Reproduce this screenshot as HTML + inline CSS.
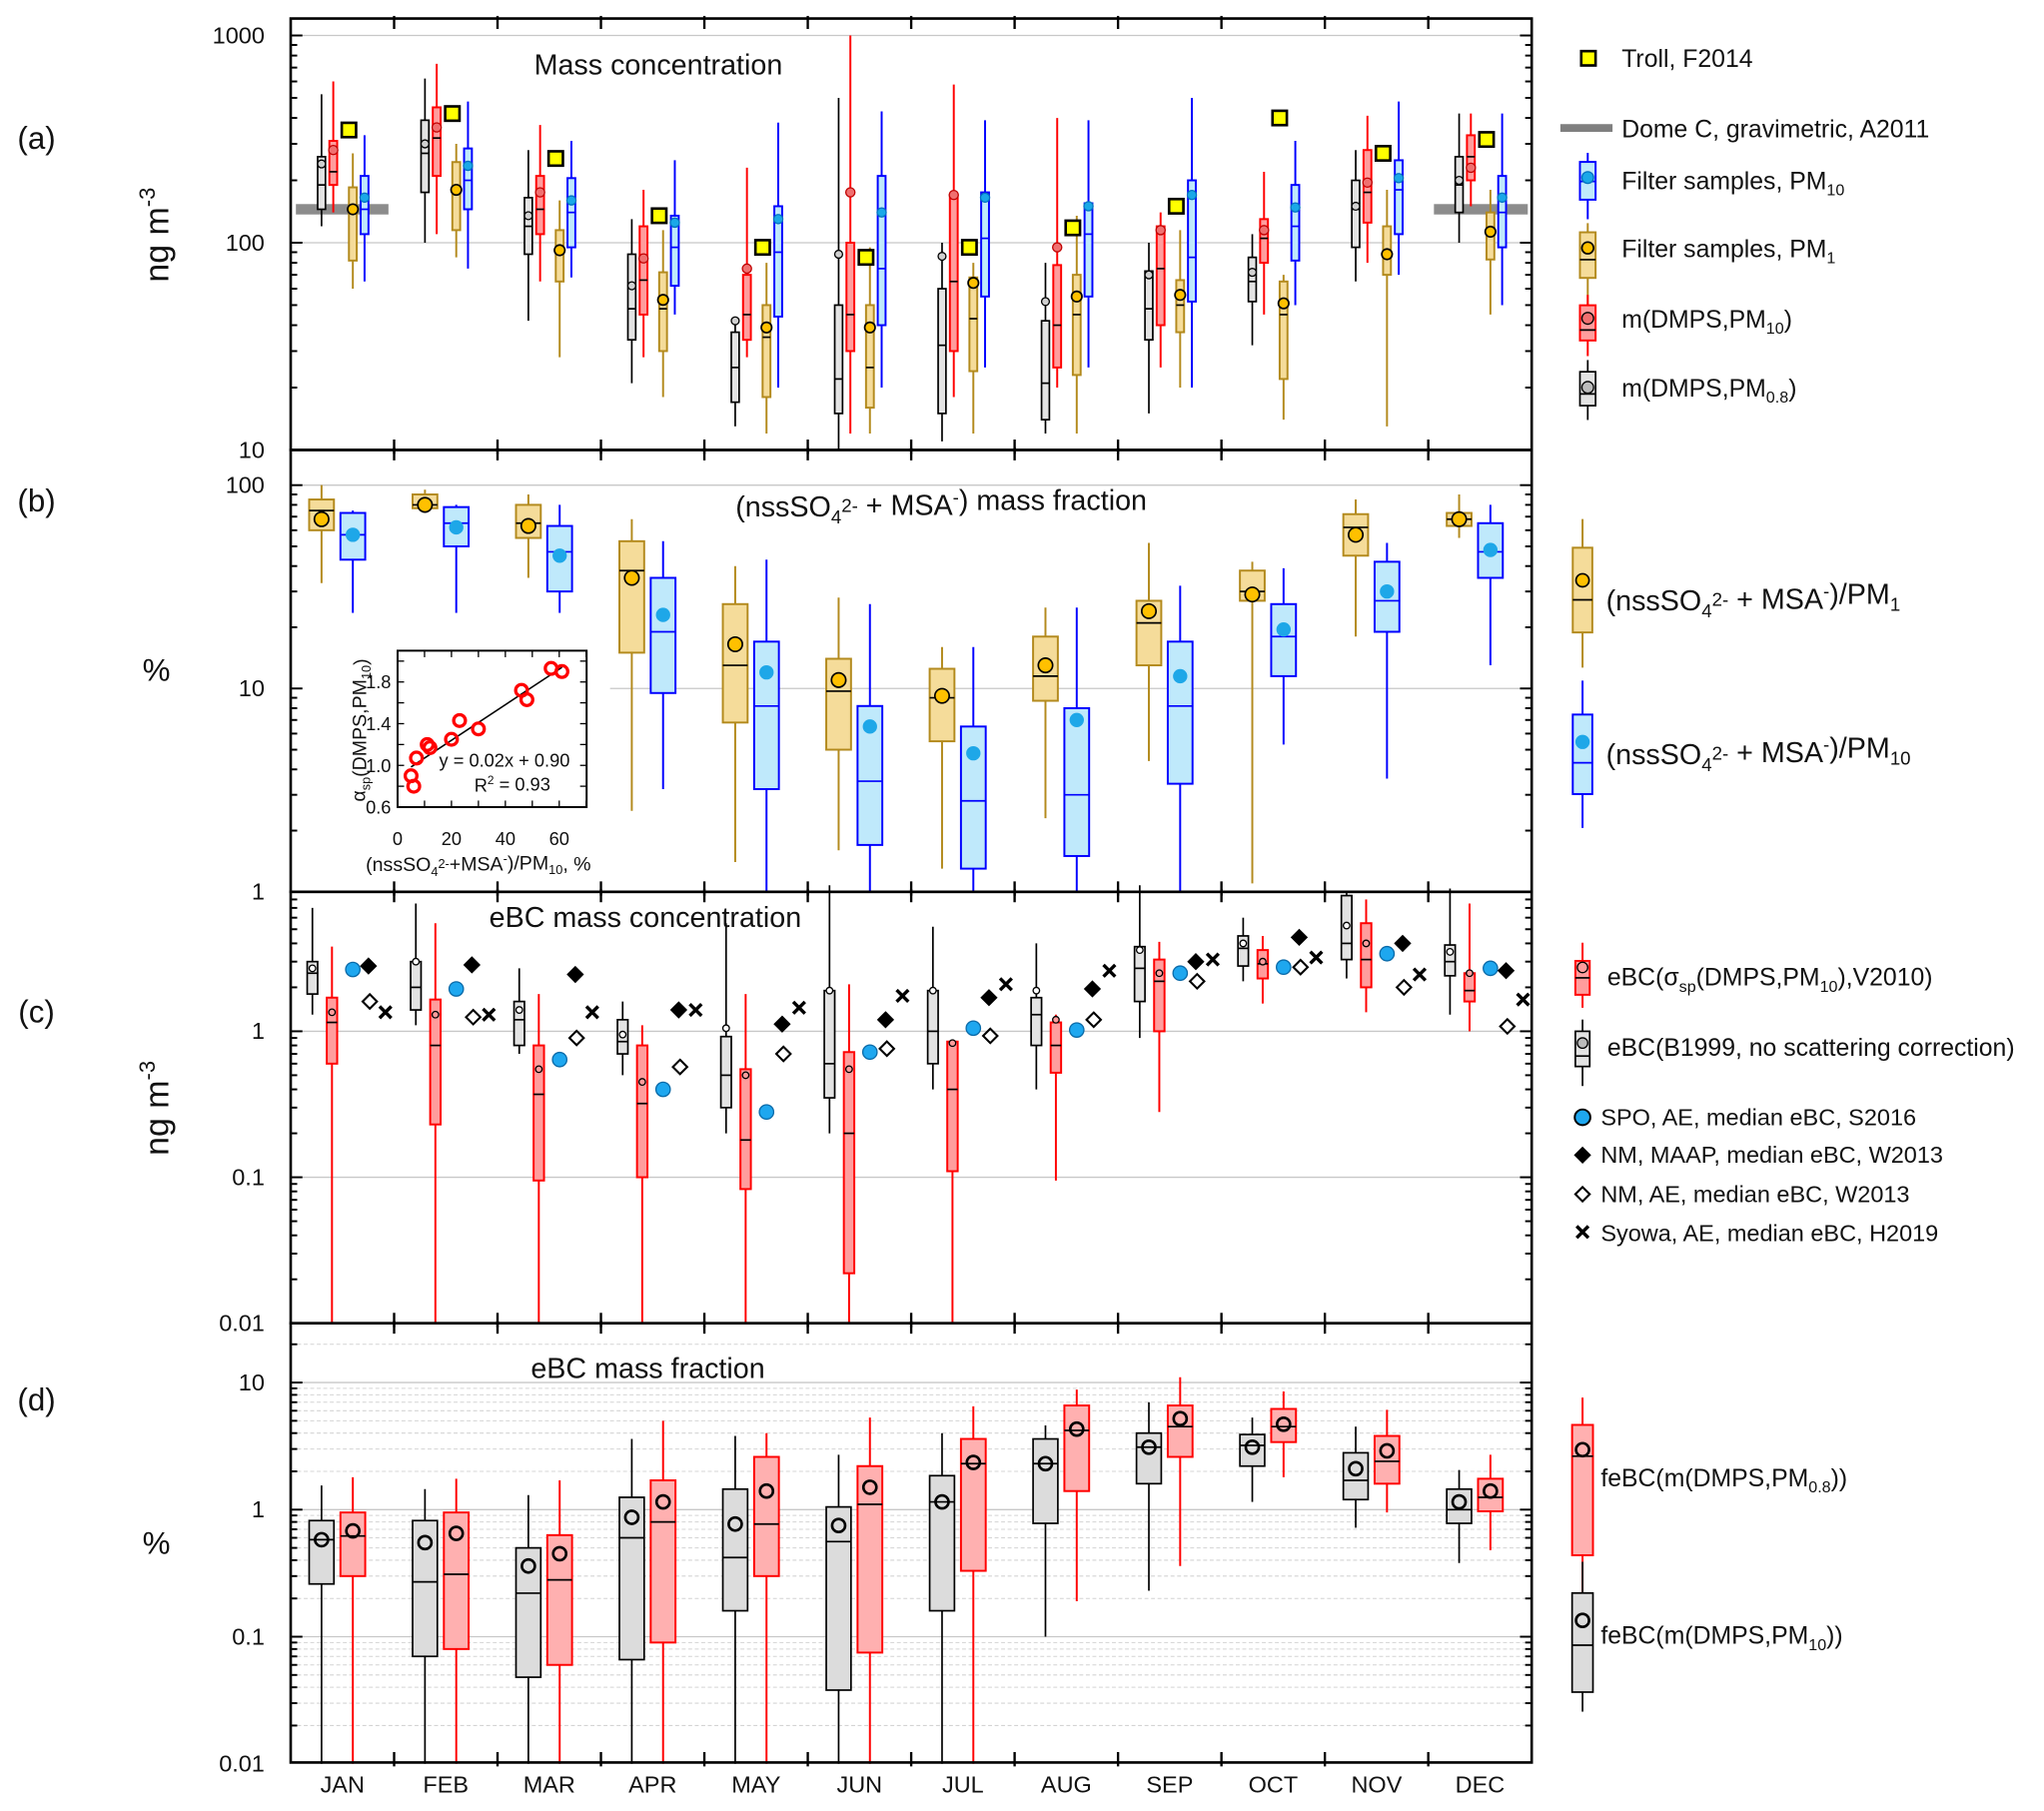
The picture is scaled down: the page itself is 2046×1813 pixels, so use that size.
<!DOCTYPE html>
<html><head><meta charset="utf-8"><style>
html,body{margin:0;padding:0;background:#fff}
svg{display:block;font-family:"Liberation Sans",sans-serif}
</style></head><body>
<svg id="chart" width="2046" height="1813" viewBox="0 0 1568 1389" xmlns="http://www.w3.org/2000/svg"></svg>
<script>
const months=["JAN","FEB","MAR","APR","MAY","JUN","JUL","AUG","SEP","OCT","NOV","DEC"];
// each entry: [whiskerLow, q1, median, q3, whiskerHigh, mean]
const aPM08=[[120,145,190,260,520,240],[100,175,270,390,620,300],[42,88,120,165,280,135],[21,34,48,88,130,62],[13,17,25,37,42,42],[10,15,22,50,500,88],[11,15,32,60,100,86],[12,14,21,42,80,52],[15,34,48,73,100,70],[32,52,65,85,110,72],[65,95,145,200,280,150],[100,140,190,260,420,200]];
const aPM10=[[140,190,220,310,600,280],[110,210,320,450,730,360],[65,110,145,210,370,175],[28,45,66,120,180,84],[28,34,45,70,230,75],[12,30,45,100,1000,175],[18,30,65,170,580,170],[20,25,40,78,400,95],[25,40,75,120,140,115],[45,80,105,130,220,115],[80,125,175,280,410,195],[150,200,260,330,420,230]];
const aFiltPM1=[[60,82,140,185,270,145],[85,115,175,245,300,180],[28,65,90,115,160,92],[18,30,48,72,115,53],[12,18,35,50,80,39],[12,16,25,50,95,39],[12,24,43,68,80,64],[12,23,45,70,135,55],[20,37,50,66,115,56],[14,22,45,65,70,51],[13,70,90,120,180,88],[45,83,110,140,180,113]];
const aFiltPM10=[[65,110,145,210,330,165],[75,145,200,285,480,235],[68,95,140,205,310,160],[45,62,95,135,250,125],[20,44,90,150,380,130],[20,40,75,210,430,140],[25,55,105,175,390,165],[25,55,110,155,390,150],[20,52,85,200,500,170],[50,82,120,190,310,148],[70,110,180,250,480,205],[50,95,140,210,420,165]];
const aTroll=[350,420,255,135,95,85,95,118,150,400,270,315];
const aDomeC=145;
const bFracPM1=[[33,60,75,85,100,68],[75,77,80,90,95,80],[35,55,65,80,90,63],[2.5,15,38,53,68,35],[1.4,6.8,13,26,40,16.5],[1.6,5,9.7,14,28,11],[1.3,5.5,9,12.5,16,9.2],[2.3,8.7,11.5,18,25,13],[4.4,13,21,27,52,24],[1.1,27,30,38,42,29],[18,45,62,72,85,57],[55,63,68,73,90,68]];
const bFracPM10=[[22,43,57,73,75,57],[18,50,65,78,80,62],[18,30,47,63,80,45],[3.2,9.5,19,35,53,23],[1,3.2,8.2,17,43,12],[1,1.7,3.5,8.2,26,6.5],[1,1.3,2.8,6.5,16,4.8],[1,1.5,3,8,25,7],[1,3.4,8.2,17,32,11.5],[5.3,11.5,18,26,39,19.5],[3.6,19,27,42,52,30],[13,35,47,65,80,48]];
const insetX=[5,6,7,11,12,20,23,30,46,48,57,61];
const insetY=[0.9,0.8,1.07,1.2,1.17,1.25,1.43,1.35,1.72,1.63,1.93,1.9];
const cB1999=[[1.3,1.8,2.5,3.0,7,2.7],[1.1,1.4,2.0,3.0,7.5,3.0],[0.7,0.8,1.2,1.6,2.7,1.4],[0.5,0.7,0.85,1.2,1.6,0.95],[0.2,0.3,0.5,0.92,5.5,1.05],[0.2,0.35,0.6,1.9,10,1.9],[0.4,0.6,1.0,1.9,5.2,1.9],[0.4,0.8,1.3,1.7,4,1.9],[0.9,1.6,2.7,3.8,10,3.6],[2.2,2.8,3.7,4.5,6,4],[2.3,3.1,4.0,8.5,9.2,5.3],[1.3,2.4,3.0,3.9,9.5,3.5]];
const cV2010=[[0.01,0.6,1.15,1.7,3.8,1.35],[0.01,0.23,0.8,1.65,5.5,1.3],[0.01,0.095,0.37,0.8,1.8,0.55],[0.01,0.1,0.32,0.8,1.1,0.45],[0.01,0.083,0.18,0.55,1.8,0.5],[0.01,0.022,0.2,0.72,2.1,0.55],[0.01,0.11,0.4,0.85,0.85,0.83],[0.095,0.52,0.8,1.15,1.3,1.2],[0.28,1.0,2.2,3.1,4.1,2.5],[1.55,2.3,2.9,3.6,4.5,3.0],[1.35,2.0,3.1,5.5,8.0,4.0],[1.0,1.6,1.9,2.5,7.5,2.5]];
const cSPO=[2.65,1.95,0.64,0.4,0.28,0.72,1.05,1.02,2.5,2.75,3.4,2.7];
const cNMMAAP=[2.8,2.85,2.45,1.4,1.12,1.2,1.7,1.95,3.0,4.4,4.0,2.6];
const cNMAE=[1.6,1.25,0.9,0.57,0.7,0.76,0.93,1.2,2.2,2.75,2.0,1.08];
const cSyowa=[1.35,1.3,1.35,1.4,1.45,1.75,2.1,2.6,3.1,3.2,2.45,1.65];
const dPM10=[[0.01,0.26,0.58,0.82,1.55,0.58],[0.01,0.07,0.27,0.82,1.45,0.55],[0.01,0.048,0.22,0.5,1.3,0.36],[0.01,0.066,0.6,1.25,3.6,0.87],[0.01,0.16,0.42,1.45,3.8,0.77],[0.01,0.038,0.56,1.05,2.7,0.75],[0.01,0.16,1.15,1.85,4,1.15],[0.1,0.78,2.3,3.6,4.6,2.3],[0.23,1.6,3.1,4,7,3.1],[1.15,2.2,3.2,3.9,5.3,3.1],[0.72,1.2,1.7,2.8,4.5,2.1],[0.38,0.78,1.0,1.45,2.05,1.15]];
const dPM08=[[0.01,0.3,0.62,0.95,1.8,0.68],[0.01,0.08,0.31,0.95,1.75,0.65],[0.01,0.06,0.28,0.63,1.7,0.45],[0.01,0.09,0.8,1.7,5,1.15],[0.01,0.3,0.77,2.6,4,1.4],[0.01,0.075,1.1,2.2,5.3,1.5],[0.01,0.33,2.3,3.6,6.5,2.35],[0.19,1.4,4.2,6.6,8.8,4.3],[0.36,2.6,4.5,6.6,11,5.2],[1.8,3.4,4.5,6.2,8.5,4.7],[0.95,1.6,2.4,3.8,6.1,2.9],[0.48,0.97,1.25,1.75,2.7,1.4]];

const NS="http://www.w3.org/2000/svg";
const svg=document.getElementById('chart');
const L=223,R=1175,MW=(R-L)/12;
function mx(i){return L+MW*(i+0.5);}
function logAxis(ref,yRef,ppd){return v=>yRef-ppd*Math.log10(v/ref);}
const yA=logAxis(100,186,159), yB=logAxis(10,528,156), yC=logAxis(1,791,112), yD=logAxis(1,1158,97.5);
const panels=[{t:14,b:345,y:yA,lo:10,hi:1000,labels:["10","100","1000"]},{t:345,b:684,y:yB,lo:1,hi:100,labels:["1","10","100"]},{t:684,b:1015,y:yC,lo:0.01,hi:1,labels:["0.01","0.1","1"]},{t:1015,b:1352,y:yD,lo:0.01,hi:10,labels:["0.01","0.1","1","10"]}];
function mk(tag,attrs,parent){const e=document.createElementNS(NS,tag);for(const k in attrs)e.setAttribute(k,attrs[k]);(parent||svg).appendChild(e);return e;}
function txt(s,x,y,size,anchor,parent){const e=mk('text',{x:x,y:y,'font-size':size,'text-anchor':anchor||'start',fill:'#111'},parent);e.textContent=s;return e;}
function rich(parts,x,y,size,anchor,parent){const e=mk('text',{x:x,y:y,'font-size':size,'text-anchor':anchor||'start',fill:'#111'},parent);parts.forEach(p=>{const t=mk('tspan',{},e);if(p[1]==='sub'){t.setAttribute('font-size',size*0.65);t.setAttribute('dy',size*0.25);}else if(p[1]==='sup'){t.setAttribute('font-size',size*0.65);t.setAttribute('dy',-size*0.4);}else if(p[1]==='back'){t.setAttribute('dy',p[2]);}t.textContent=p[0];});return e;}

// gridlines
const gp=mk('g',{});


[[yA,[100,1000],L],[yB,[100],L],[yC,[1,0.1],L]].forEach(([f,vals,x0])=>vals.forEach(v=>mk('line',{x1:x0,x2:R,y1:f(v),y2:f(v),stroke:'#c8c8c8','stroke-width':1},gp)));
mk('line',{x1:468,x2:R,y1:yB(10),y2:yB(10),stroke:'#c8c8c8','stroke-width':1},gp);
[0.01,0.1,1,10].forEach(d=>{for(let k=2;k<=9;k++){const v=d*k;if(v>25)continue;mk('line',{x1:L,x2:R,y1:yD(v),y2:yD(v),stroke:'#d4d4d4','stroke-width':0.8,'stroke-dasharray':'3,2'},gp);}});
[0.1,1,10].forEach(v=>mk('line',{x1:L,x2:R,y1:yD(v),y2:yD(v),stroke:'#c8c8c8','stroke-width':1},gp));

function drawBox(g,xc,w,s,f,st){
  const q3=f(s[3]),q1=f(s[1]);
  mk('line',{x1:xc,x2:xc,y1:f(s[0]),y2:f(s[4]),stroke:st.wc,'stroke-width':st.ww},g);
  mk('rect',{x:xc-w/2,y:q3,width:w,height:q1-q3,fill:st.fill,stroke:st.bc,'stroke-width':st.bw},g);
  mk('line',{x1:xc-w/2,x2:xc+w/2,y1:f(s[2]),y2:f(s[2]),stroke:st.mc,'stroke-width':st.mw||1.3},g);
  mk('circle',{cx:xc,cy:f(s[5]),r:st.r,fill:st.mf,stroke:st.ms,'stroke-width':st.msw||1},g);
}
const stGrey={wc:'#000',ww:1.3,fill:'#e3e3e3',bc:'#000',bw:1.3,mc:'#000',r:3,mf:'#d0d0d0',ms:'#000'};
const stRed={wc:'#ff0000',ww:1.5,fill:'#ff9d9d',bc:'#ff0000',bw:1.5,mc:'#000',r:3.5,mf:'#f07070',ms:'#c00000'};
const stGold={wc:'#b38a1d',ww:1.5,fill:'#f5dc9a',bc:'#b38a1d',bw:1.5,mc:'#000',r:4,mf:'#ffc000',ms:'#000',msw:1.3};
const stBlue={wc:'#0000ff',ww:1.5,fill:'#bfe9fb',bc:'#0000ff',bw:1.5,mc:'#0000ff',r:3.5,mf:'#1aa8e8',ms:'#0070c0'};

// Panel a
const ga=mk('g',{});


[[227,298],[1100,1172]].forEach(([a,b])=>{const r=mk('rect',{x:a,y:yA(aDomeC)-4,width:b-a,height:8,fill:'#7f7f7f',opacity:0.9},ga);

});
months.forEach((m,i)=>{const c=mx(i);
  drawBox(ga,c-16,6,aPM08[i],yA,stGrey);
  drawBox(ga,c-7,6,aPM10[i],yA,stRed);
  drawBox(ga,c+8,6,aFiltPM1[i],yA,stGold);
  drawBox(ga,c+17,6,aFiltPM10[i],yA,stBlue);
  const sq=mk('rect',{x:c+5-5.5,y:yA(aTroll[i])-5.5,width:11,height:11,fill:'#ffff00',stroke:'#000','stroke-width':2},ga);
  
  
});
// Panel b
const gb=mk('g',{});


const stGoldB=Object.assign({},stGold,{r:5.5,mw:1.3});
const stBlueB=Object.assign({},stBlue,{r:5,mf:'#1ea7e8',ms:'#1ea7e8'});
months.forEach((m,i)=>{const c=mx(i);
  drawBox(gb,c-16,19,bFracPM1[i],yB,stGoldB);
  drawBox(gb,c+8,19,bFracPM10[i],yB,stBlueB);
});
// inset
const gi=mk('g',{});


mk('rect',{x:235,y:470,width:232,height:205,fill:'#fff'},gi);
const ix=v=>305+v*(124/60), iy=v=>619-(v-0.6)*80;
mk('rect',{x:305,y:499,width:145,height:120,fill:'none',stroke:'#000','stroke-width':1.5},gi);
for(let v=0.6;v<=2.05;v+=0.2){mk('line',{x1:305,x2:310,y1:iy(v),y2:iy(v),stroke:'#000'},gi);mk('line',{x1:445,x2:450,y1:iy(v),y2:iy(v),stroke:'#000'},gi);}
for(let v=0;v<=70;v+=10){mk('line',{x1:ix(v),x2:ix(v),y1:614,y2:619,stroke:'#000'},gi);mk('line',{x1:ix(v),x2:ix(v),y1:499,y2:504,stroke:'#000'},gi);}
["0.6","1.0","1.4","1.8"].forEach(s=>txt(s,300,iy(+s)+5,14,'end',gi));
["0","20","40","60"].forEach(s=>txt(s,ix(+s),648,14,'middle',gi));
mk('line',{x1:ix(5),y1:iy(0.985),x2:ix(61),y2:iy(1.94),stroke:'#000','stroke-width':1.2},gi);
insetX.forEach((v,k)=>{const p=mk('circle',{cx:ix(v),cy:iy(insetY[k]),r:4.5,fill:'none',stroke:'#ff0000','stroke-width':2.5},gi);

});
txt('y = 0.02x + 0.90',387,588,14,'middle',gi);
rich([['R'],['2','sup'],[' = 0.93','back',5]],393,607,14,'middle',gi);
rich([['(nssSO'],['4','sub'],['2-','sup'],['+MSA','back',2],['-','sup'],[')/PM','back',5],['10','sub'],[', %','back',-3]],367,668,15,'middle',gi);
const iyl=rich([['α'],['sp','sub'],['(DMPS,PM','back',-3],['10','sub'],[')','back',-3]],0,0,15,'middle',gi);
iyl.setAttribute('transform','translate(280,560) rotate(-90)');
// Panel c
const gc=mk('g',{});


const stGreyC=Object.assign({},stGrey,{r:2.5,mf:'#fff'});
const stRedC=Object.assign({},stRed,{r:2.5,mf:'#ff9d9d',ms:'#000'});
function diamond(x,y,fill,g){return mk('path',{d:`M${x} ${y-5.5}L${x+5.5} ${y}L${x} ${y+5.5}L${x-5.5} ${y}Z`,fill:fill,stroke:'#000','stroke-width':1.6},g);}
function cross(x,y,g){const p=mk('path',{d:`M${x-4.5} ${y-4.5}L${x+4.5} ${y+4.5}M${x+4.5} ${y-4.5}L${x-4.5} ${y+4.5}`,stroke:'#000','stroke-width':2.6},g);return p;}
months.forEach((m,i)=>{const c=mx(i);
  drawBox(gc,c-23,8,cB1999[i],yC,stGreyC);
  drawBox(gc,c-8,8,cV2010[i],yC,stRedC);
  const s=mk('circle',{cx:c+8,cy:yC(cSPO[i]),r:5.5,fill:'#1ea7ef',stroke:'#0a6aa8','stroke-width':1},gc);
  
  
  const d1=diamond(c+20,yC(cNMMAAP[i]),'#000',gc);
  
  
  const d2=diamond(c+21,yC(cNMAE[i]),'#fff',gc);
  
  
  const x=cross(c+33,yC(cSyowa[i]),gc);
  
  
});
// Panel d
const gd=mk('g',{});


const stGreyD=Object.assign({},stGrey,{r:5,mf:'none',msw:2,fill:'#dcdcdc'});
const stRedD=Object.assign({},stRed,{r:5,mf:'none',ms:'#000',msw:2,fill:'#ffb0b0'});
months.forEach((m,i)=>{const c=mx(i);
  drawBox(gd,c-16,19,dPM10[i],yD,stGreyD);
  drawBox(gd,c+8,19,dPM08[i],yD,stRedD);
});

// frames, ticks, labels
panels.forEach((p,pi)=>{
  const g=mk('g',{});
  
  
  mk('rect',{x:L,y:p.t,width:R-L,height:p.b-p.t,fill:'none',stroke:'#000','stroke-width':2},g);
  for(let k=1;k<12;k++){const x=L+MW*k;mk('line',{x1:x,x2:x,y1:p.t-2,y2:p.t+8,stroke:'#000','stroke-width':1.8},g);mk('line',{x1:x,x2:x,y1:p.b-8,y2:p.b+3,stroke:'#000','stroke-width':1.8},g);}
  for(let e=Math.log10(p.lo);e<=Math.log10(p.hi)+1;e++){const d=Math.pow(10,e);for(let k=1;k<=9;k++){const v=d*k;const y=p.y(v);if(y<p.t+1||y>p.b)continue;const len=k===1?9:5;mk('line',{x1:L,x2:L+len,y1:y,y2:y,stroke:'#000','stroke-width':1.5},g);mk('line',{x1:R-len,x2:R,y1:y,y2:y,stroke:'#000','stroke-width':1.5},g);}}
  p.labels.forEach(s=>{const t=txt(s,203,p.y(+s)+6,18,'end',g);});
});
months.forEach((m,i)=>{const t=txt(m,mx(i),1375,18,'middle');

});
[['(a)',114],['(b)',392],['(c)',784],['(d)',1082]].forEach(([s,y])=>{const t=txt(s,28,y,24,'middle');

});
function unitTitle(cx,cy){const t=rich([['ng m'],['-3','sup']],0,0,26,'middle');t.setAttribute('transform',`translate(${cx},${cy}) rotate(-90)`);return t;}
const ua=unitTitle(129,180);


const uc=unitTitle(129,850);


const ub=txt('%',120,522,24,'middle');


const ud=txt('%',120,1192,24,'middle');


const t1=txt('Mass concentration',505,57,22,'middle');


const t2=rich([['(nssSO'],['4','sub'],['2-','sup'],[' + MSA','back',2],['-','sup'],[') mass fraction','back',5]],722,396,22,'middle');


const t3=txt('eBC mass concentration',495,711,22,'middle');


const t4=txt('eBC mass fraction',497,1057,22,'middle');



// Legends
const lg=mk('g',{});


function legBox(x,yt,yb,ylo,yhi,ymed,ymean,w,st,g){mk('line',{x1:x,x2:x,y1:ylo,y2:yhi,stroke:st.wc,'stroke-width':st.ww},g);mk('rect',{x:x-w/2,y:yt,width:w,height:yb-yt,fill:st.fill,stroke:st.bc,'stroke-width':st.bw},g);mk('line',{x1:x-w/2,x2:x+w/2,y1:ymed,y2:ymed,stroke:st.mc,'stroke-width':1.3},g);mk('circle',{cx:x,cy:ymean,r:st.r,fill:st.mf,stroke:st.ms,'stroke-width':st.msw||1},g);}
// panel a legend
mk('rect',{x:1213,y:39,width:11,height:11,fill:'#ffff00',stroke:'#000','stroke-width':2},lg);
txt('Troll, F2014',1244,51,19,'start',lg);
mk('rect',{x:1197,y:95,width:40,height:6,fill:'#7f7f7f'},lg);
txt('Dome C, gravimetric, A2011',1244,105,19,'start',lg);
legBox(1218,124,153,117,168,139,136,12,Object.assign({},stBlue,{r:4.5}),lg);
rich([['Filter samples, PM'],['10','sub']],1244,145,19,'start',lg);
legBox(1218,178,213,171,235,199,190,12,Object.assign({},stGold,{r:4.5}),lg);
rich([['Filter samples, PM'],['1','sub']],1244,197,19,'start',lg);
legBox(1218,234,261,226,273,253,244,12,Object.assign({},stRed,{r:4.5,ms:'#000'}),lg);
rich([['m(DMPS,PM'],['10','sub'],[')','back',-4.75]],1244,251,19,'start',lg);
legBox(1218,285,311,276,322,302,297,12,Object.assign({},stGrey,{r:4.5,mf:'#bbb'}),lg);
rich([['m(DMPS,PM'],['0.8','sub'],[')','back',-4.75]],1244,304,19,'start',lg);
// panel b legend
legBox(1214,420,485,398,512,460,445,15,Object.assign({},stGoldB,{r:5}),lg);
rich([['(nssSO'],['4','sub'],['2-','sup'],[' + MSA','back',2],['-','sup'],[')/PM','back',5],['1','sub']],1232,468,22,'start',lg);
legBox(1214,548,609,522,635,585,569,15,stBlueB,lg);
rich([['(nssSO'],['4','sub'],['2-','sup'],[' + MSA','back',2],['-','sup'],[')/PM','back',5],['10','sub']],1232,586,22,'start',lg);
// panel c legend
legBox(1214,737,763,723,773,750,742,11,Object.assign({},stRedC,{r:4}),lg);
rich([['eBC(σ'],['sp','sub'],['(DMPS,PM','back',-4.75],['10','sub'],['),V2010)','back',-4.75]],1233,756,19,'start',lg);
legBox(1214,791,818,782,833,810,800,11,Object.assign({},stGreyC,{r:4,mf:'#bbb'}),lg);
txt('eBC(B1999, no scattering correction)',1233,810,19,'start',lg);
mk('circle',{cx:1214,cy:857,r:6,fill:'#1ea7ef',stroke:'#000','stroke-width':1.5},lg);
txt('SPO, AE, median eBC, S2016',1228,863,18,'start',lg);
diamond(1214,886,'#000',lg);
txt('NM, MAAP, median eBC, W2013',1228,892,18,'start',lg);
diamond(1214,916,'#fff',lg);
txt('NM, AE,  median eBC, W2013',1228,922,18,'start',lg);
cross(1214,945,lg);
txt('Syowa, AE, median eBC, H2019',1228,952,18,'start',lg);
// panel d legend
legBox(1214,1093,1193,1072,1253,1117,1112,16,stRedD,lg);
rich([['feBC(m(DMPS,PM'],['0.8','sub'],['))','back',-4.75]],1228,1140,19,'start',lg);
legBox(1214,1222,1298,1271,1313,1262,1243,16,stGreyD,lg);
mk('line',{x1:1214,x2:1214,y1:1198,y2:1222,stroke:'#000','stroke-width':1.3},lg);
rich([['feBC(m(DMPS,PM'],['10','sub'],['))','back',-4.75]],1228,1261,19,'start',lg);
</script>
</body></html>
